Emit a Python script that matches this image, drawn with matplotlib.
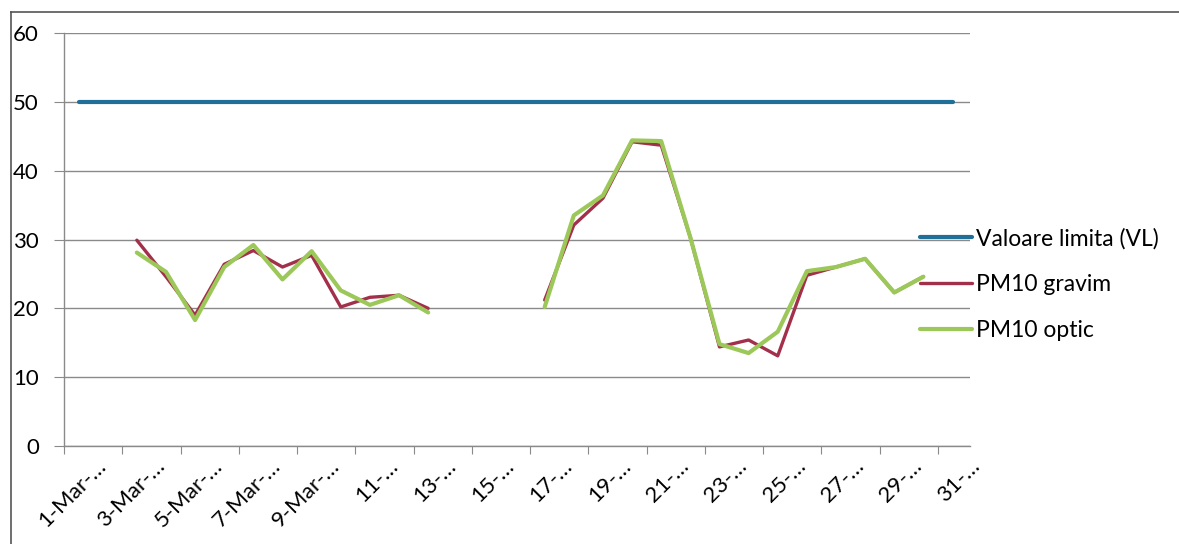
import numpy as np
import matplotlib
matplotlib.use("Agg")
import matplotlib.pyplot as plt
from matplotlib.lines import Line2D

plt.rcParams['font.family'] = ['Lato', 'DejaVu Sans']

days = list(range(1, 32))
tick_labels = ["1-Mar-…", "3-Mar-…", "5-Mar-…", "7-Mar-…", "9-Mar-…",
               "11-…", "13-…", "15-…", "17-…", "19-…", "21-…", "23-…",
               "25-…", "27-…", "29-…", "31-…"]
nan = np.nan
vl = [50] * 31
gravim = [nan, nan, 29.9, 24.6, 19.0, 26.4, 28.4, 26.0, 27.7, 20.2, 21.6, 21.9, 20.0,
          nan, nan, nan, 21.2, 32.1, 36.0, 44.2, 43.7, 30.3, 14.4, 15.4, 13.1, 24.8,
          26.0, 27.2, 22.3, 24.6, nan]
optic = [nan, nan, 28.1, 25.3, 18.3, 26.0, 29.2, 24.2, 28.3, 22.6, 20.5, 21.9, 19.4,
         nan, nan, nan, 20.2, 33.5, 36.4, 44.4, 44.3, 30.3, 14.8, 13.5, 16.6, 25.4,
         26.0, 27.2, 22.3, 24.6, nan]
series_names = ["Valoare limita (VL)", "PM10 gravim", "PM10 optic"]

W, H = 1179, 544
fig = plt.figure(figsize=(W / 100, H / 100), dpi=100)
fig.patch.set_facecolor('white')
ax = fig.add_axes([64 / W, (H - 446) / H, (970 - 64) / W, (446 - 33) / H])

c_vl = '#1f6f98'
c_red = '#a3304a'
c_green = '#9cc85a'

l1, = ax.plot(days, vl, color=c_vl, lw=3.0, solid_capstyle='round', zorder=3)
l2, = ax.plot(days, gravim, color=c_red, lw=2.4, solid_capstyle='round', zorder=4)
l3, = ax.plot(days, optic, color=c_green, lw=3.0, solid_capstyle='round', zorder=5)

ax.set_xlim(0.5, 31.5)
ax.set_ylim(0, 60)
ax.set_yticks(range(0, 61, 10))
ax.yaxis.grid(True, color='#8a8a8a', lw=1.0)
ax.set_axisbelow(True)
for s in ['top', 'right']:
    ax.spines[s].set_visible(False)
for s in ['left', 'bottom']:
    ax.spines[s].set_color('#8a8a8a')
    ax.spines[s].set_linewidth(1.0)

# major ticks at category boundaries, labels on minor ticks (shifted slightly right
# of the category centre, as in the spreadsheet rendering)
label_shift = 0.6
ax.set_xticks(np.arange(0.5, 31, 2))
ax.set_xticklabels([])
ax.set_xticks(np.array(days[::2]) + label_shift, minor=True)
ax.set_xticklabels(tick_labels, minor=True, rotation=45, ha='right',
                   rotation_mode='anchor', fontsize=16)
ax.tick_params(axis='x', which='major', length=6, color='#8a8a8a', direction='out')
ax.tick_params(axis='x', which='minor', length=0, pad=7)
ax.tick_params(axis='y', length=7, color='#8a8a8a', labelsize=16, pad=11)

leg = ax.legend([l1, l2, l3], series_names, loc='upper left',
                bbox_to_anchor=(920 / W, (H - 228) / H), bbox_transform=fig.transFigure,
                frameon=False, fontsize=16.5, handlelength=2.25, handletextpad=0.2,
                labelspacing=1.07, borderaxespad=0, borderpad=0)
leg.set_zorder(10)

# chart border (top and left visible)
fig.add_artist(Line2D([11 / W, 11 / W], [0, (H - 12) / H], color='#555555', lw=1.2,
                      transform=fig.transFigure))
fig.add_artist(Line2D([11 / W, 1], [(H - 12) / H, (H - 12) / H], color='#555555', lw=1.2,
                      transform=fig.transFigure))

fig.savefig('out.png', dpi=100, facecolor='white')
